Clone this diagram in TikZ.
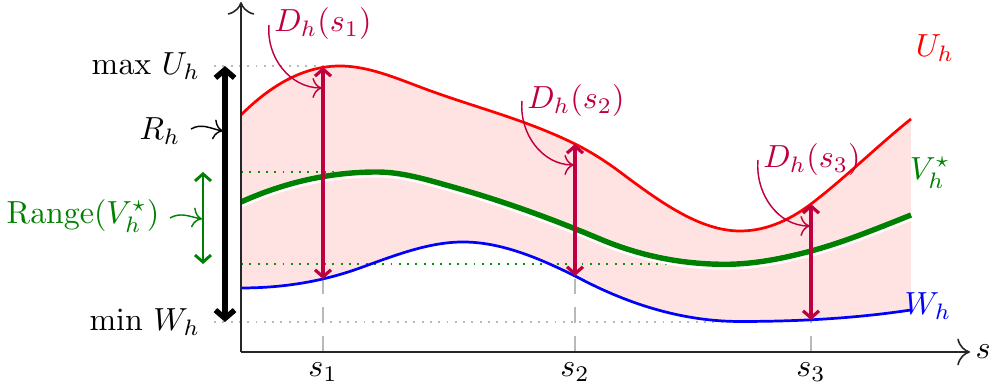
\documentclass[tikz,border=0pt]{standalone}
\usetikzlibrary{arrows.meta}
\begin{document}
\begin{tikzpicture}[x=0.011cm,y=-0.011cm,
  axisline/.style={black!85,line width=0.5pt,-{To[length=4pt]}},
  guidedot/.style={gray!55,dotted,line width=0.6pt},
  greendot/.style={green!60!black,dotted,line width=0.6pt},
  guidedash/.style={gray!55,dash pattern=on 5pt off 4pt,line width=0.6pt},
  ucurve/.style={red,line width=0.85pt},
  wcurve/.style={blue,line width=0.85pt},
  vcurve/.style={green!50!black,line width=1.7pt},
  darrow/.style={purple,line width=1pt,{Straight Barb[length=2.2pt,width=5pt]}-{Straight Barb[length=2.2pt,width=5pt]}},
  labarrow/.style={line width=0.45pt,-{To[length=3pt]}},
  lab/.style={inner sep=1pt}
]
\useasboundingbox (0,0) rectangle (998,392);
% fill between U and W
\fill[red!11] (241,115) .. controls (274,82) and (307,66) .. (340,66)
  .. controls (366.7,66) and (393.3,76.9) .. (420,87)
  .. controls (472.3,106.9) and (524.7,118.8) .. (577,145)
  .. controls (591.3,152.2) and (605.7,161.3) .. (620,172)
  .. controls (660,202) and (700,231) .. (740,231)
  .. controls (763.7,231) and (787.3,222) .. (811,204)
  .. controls (844.3,178.7) and (877.7,145.7) .. (911,119)
  -- (911,310) .. controls (854,318.6) and (797,321.5) .. (740,321.5)
  .. controls (685.7,321.5) and (631.3,306) .. (577,277)
  .. controls (539,258) and (501,242) .. (463,242)
  .. controls (428.7,242) and (394.3,255.6) .. (360,268)
  .. controls (320.3,282.3) and (280.7,288) .. (241,288) -- cycle;
% guides
\draw[guidedot] (214,66) -- (338,66);
\draw[guidedot] (214,322) -- (740,322);
\draw[greendot] (241,172) -- (377,172);
\draw[greendot] (241,264) -- (725,264);
\coordinate (a1) at (323,352); \coordinate (w1) at (323,279);
\coordinate (a2) at (575,352); \coordinate (w2) at (575,276);
\coordinate (a3) at (811,352); \coordinate (w3) at (811,320);
\draw[guidedash] (a1) -- (w1);
\draw[guidedash] (a2) -- (w2);
\draw[guidedash] (a3) -- (w3);
% U curve
\draw[ucurve] (241,115) .. controls (274,82) and (307,66) .. (340,66)
  .. controls (366.7,66) and (393.3,76.9) .. (420,87)
  .. controls (472.3,106.9) and (524.7,118.8) .. (577,145)
  .. controls (591.3,152.2) and (605.7,161.3) .. (620,172)
  .. controls (660,202) and (700,231) .. (740,231)
  .. controls (763.7,231) and (787.3,222) .. (811,204)
  .. controls (844.3,178.7) and (877.7,145.7) .. (911,119);
% W curve
\draw[wcurve] (241,288) .. controls (280.7,288) and (320.3,282.3) .. (360,268)
  .. controls (394.3,255.6) and (428.7,242) .. (463,242)
  .. controls (501,242) and (539,258) .. (577,277)
  .. controls (631.3,306) and (685.7,321.5) .. (740,321.5)
  .. controls (797,321.5) and (854,318.6) .. (911,310);
% V curve with white edge
\begin{scope}[yshift=-0.4pt]
\draw[white,line width=2.6pt] (241,202) .. controls (286.3,181.6) and (331.7,172) .. (377,172)
  .. controls (402.3,172) and (427.7,179.9) .. (453,187)
  .. controls (502,200.7) and (551,218.4) .. (600,239)
  .. controls (641.7,256.5) and (683.3,264.3) .. (725,264.3)
  .. controls (753.7,264.3) and (782.3,258.7) .. (811,251)
  .. controls (844.3,242) and (877.7,228.3) .. (911,215);
\end{scope}
\draw[vcurve] (241,202) .. controls (286.3,181.6) and (331.7,172) .. (377,172)
  .. controls (402.3,172) and (427.7,179.9) .. (453,187)
  .. controls (502,200.7) and (551,218.4) .. (600,239)
  .. controls (641.7,256.5) and (683.3,264.3) .. (725,264.3)
  .. controls (753.7,264.3) and (782.3,258.7) .. (811,251)
  .. controls (844.3,242) and (877.7,228.3) .. (911,215);
% axes
\coordinate (o) at (241,352);
\coordinate (xend) at (970,352);
\coordinate (yend) at (241,2);
\draw[axisline] (o) -- (xend);
\draw[axisline] (o) -- (yend);
\node[lab] (s) at (983,352) {$s$};
\node[lab] (t1) at (323,372) {$s_1$};
\node[lab] (t2) at (575,372) {$s_2$};
\node[lab] (t3) at (811,372) {$s_3$};
% D arrows
\coordinate (u1) at (323,67); \coordinate (b1) at (323,279);
\coordinate (u2) at (575,144); \coordinate (b2) at (575,276);
\coordinate (u3) at (811,204); \coordinate (b3) at (811,320);
\draw[darrow] (u1) -- (b1);
\draw[darrow] (u2) -- (b2);
\draw[darrow] (u3) -- (b3);
\node[lab,purple] (d1) at (323,24) {$D_h(s_1)$};
\node[lab,purple] (d2) at (576,101) {$D_h(s_2)$};
\node[lab,purple] (d3) at (812,160) {$D_h(s_3)$};
\coordinate (d1s) at (269,25); \coordinate (d1e) at (322,88);
\coordinate (d2s) at (522,101); \coordinate (d2e) at (574,165);
\coordinate (d3s) at (758,160); \coordinate (d3e) at (810,226);
\draw[labarrow,purple] (d1s) to[out=-95,in=180] (d1e);
\draw[labarrow,purple] (d2s) to[out=-95,in=180] (d2e);
\draw[labarrow,purple] (d3s) to[out=-95,in=180] (d3e);
% range arrows
\coordinate (rt) at (225,66); \coordinate (rb) at (225,322);
\draw[line width=1.7pt,{Straight Barb[length=2.6pt,width=6pt]}-{Straight Barb[length=2.6pt,width=6pt]}] (rt) -- (rb);
\coordinate (gt) at (203,172); \coordinate (gb) at (203,264);
\draw[green!50!black,line width=0.9pt,{Straight Barb[length=2.2pt,width=5pt]}-{Straight Barb[length=2.2pt,width=5pt]}] (gt) -- (gb);
\node[lab,anchor=east] (mx) at (204,66) {$\max\, U_h$};
\node[lab,anchor=east] (mn) at (204,322) {$\min\, W_h$};
\node[lab] (R) at (160,131) {$R_h$};
\coordinate (Rs) at (191,129); \coordinate (Re) at (223,131);
\draw[labarrow] (Rs) to[out=30,in=170] (Re);
\node[lab,green!50!black] (rg) at (83,216) {$\mathrm{Range}(V_h^\star)$};
\coordinate (gs) at (170,218); \coordinate (ge) at (202,219);
\draw[labarrow,green!50!black] (gs) to[out=30,in=170] (ge);
% curve labels
\node[lab,red] (U) at (935,48) {$U_h$};
\node[lab,green!50!black] (V) at (930,173) {$V_h^\star$};
\node[lab,blue] (W) at (928,306) {$W_h$};
\end{tikzpicture}
\end{document}
